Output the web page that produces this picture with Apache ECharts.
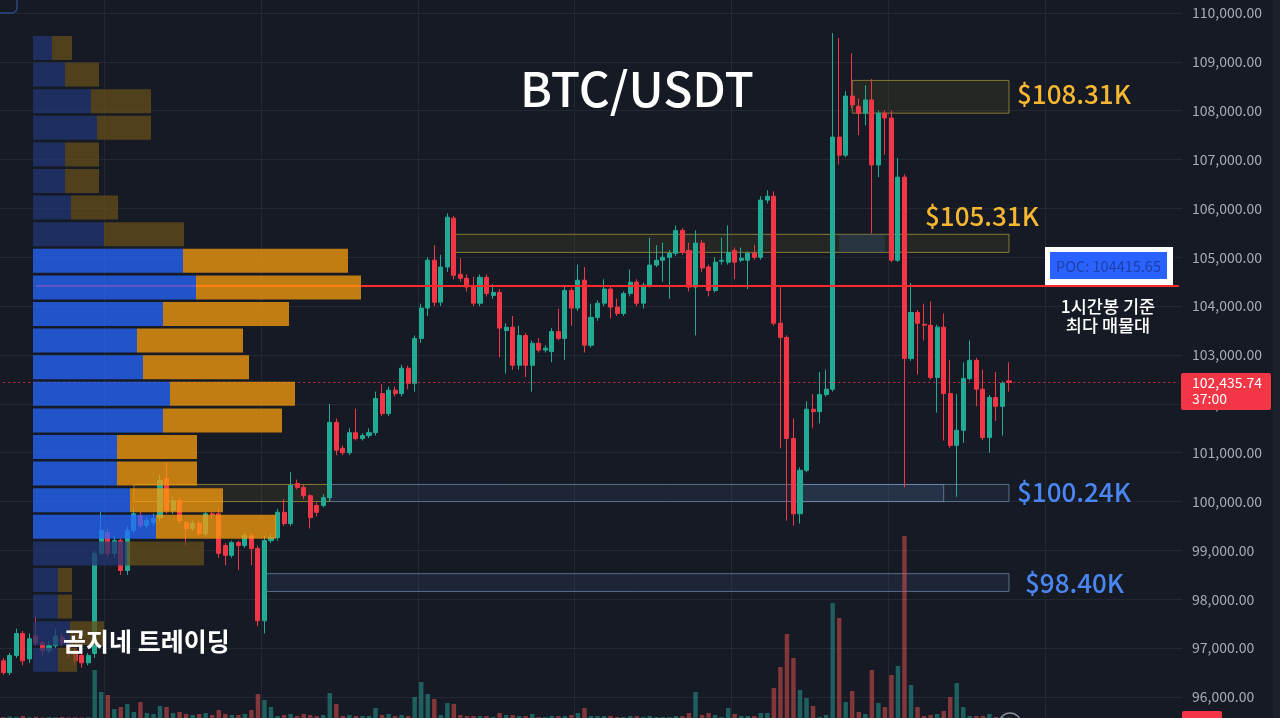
<!DOCTYPE html>
<html><head><meta charset="utf-8">
<script src="https://cdn.jsdelivr.net/npm/echarts/dist/echarts.min.js"></script>
<style>html,body{margin:0;padding:0;background:#161a25;overflow:hidden}#c{width:1280px;height:718px}</style>
</head><body><div id="c"></div>
<script>
// ---- DATA ----
// hourly candles: [open, close, low, high]
const candles = [
[96740,96500,96450,96800],[96500,96850,96450,96900],[96850,97300,96800,97400],[97300,96740,96650,97350],
[96780,97190,96700,97300],[97250,97110,97050,97660],[97110,96950,96850,97150],[96950,97050,96900,97150],
[97050,97250,97000,97400],[97230,97110,97050,97300],[97050,96910,96800,97100],[96950,96740,96650,97000],
[96850,96700,96600,96900],[96700,96850,96650,96900],[96890,98940,96800,99000],[98940,99410,98900,99800],
[99370,98940,98850,99450],[98940,99200,98850,99300],[99200,98590,98500,99250],[98590,99410,98500,99500],
[99410,99750,99350,99850],[99710,99510,99450,99800],[99510,99610,99450,99700],[99570,99650,99500,99750],
[99670,100430,99600,100550],[100470,99820,99750,100800],[99820,100020,99750,100100],[100020,99610,99550,100100],
[99570,99450,99100,99600],[99450,99550,99400,99620],[99550,99340,99300,99600],[99340,99750,99300,99800],
[99750,99730,99650,99800],[99750,98940,98850,99850],[99100,98900,98700,99150],[98900,99160,98850,99200],
[99160,99100,98600,99200],[99100,99300,99050,99350],[99300,99040,98700,99350],[99040,97560,97450,99100],
[97560,99200,97300,99300],[99200,99260,99150,99350],[99260,99780,99200,99850],[99780,99550,99500,100050],
[99550,100330,99500,100600],[100370,100290,100250,100450],[100290,100120,100050,100350],[100120,99670,99450,100150],
[99920,99780,99700,99980],[99920,100080,99880,100150],[100080,101620,100000,102000],[101620,101050,100950,101700],
[101090,101000,100950,101150],[101000,101410,100950,101500],[101410,101290,101250,101900],[101290,101350,101250,101400],
[101350,101410,101300,101500],[101410,102110,101350,102250],[102210,101800,101750,102400],[101800,102280,101750,102350],
[102280,102210,102150,102350],[102210,102730,102150,102800],[102730,102420,102300,102780],[102420,103340,102250,103400],
[103340,103960,103250,104050],[103960,104940,103800,105000],[104940,104080,104000,105250],[104080,104800,104000,105050],
[104800,105820,104700,105900],[105800,104630,104550,105850],[104650,104570,104500,104980],[104570,104390,104300,104650],
[104390,104060,104000,104600],[104060,104590,104000,104650],[104590,104260,104200,104650],[104220,104280,104150,104450],
[104280,103550,102950,104350],[103500,103570,102620,103650],[103570,102790,102700,103800],[102790,103400,102700,103600],
[103400,102790,102550,103450],[102790,103240,102250,103300],[103240,103100,103050,103350],[103100,103140,103050,103200],
[103070,103480,102850,103550],[103480,103340,103300,103950],[103340,104320,102900,104400],[104320,103960,103600,104380],
[103960,104530,103900,104850],[104530,103200,103050,104800],[103200,103770,103150,104050],[103770,104060,103700,104120],
[104060,104350,104000,104550],[104350,103980,103750,104400],[103980,103850,103800,104150],[103850,104260,103800,104300],
[104260,104490,104200,104750],[104490,104060,104000,104550],[104060,104430,103950,104480],[104430,104840,104380,105400],
[104840,104940,104800,105250],[104940,105000,104500,105300],[105000,105080,104150,105150],[105080,105550,105030,105650],
[105550,105100,105050,105600],[105140,104390,104300,105300],[104390,105290,103400,105550],[105290,104780,104700,105350],
[104800,104320,104200,104850],[104320,104900,104280,105000],[104920,104940,104850,105400],[104900,105100,104850,105650],
[105140,104900,104550,105200],[104940,104980,104900,105200],[104940,105080,104350,105120],[105080,105000,104950,105250],
[105000,106170,104950,106250],[106170,106250,106100,106370],[106250,103650,103600,106350],[103650,103360,101090,104400],
[103360,101290,99610,103400],[101290,99750,99510,101700],[99750,100640,99550,100700],[100640,101890,100600,102050],
[101890,101840,101500,102200],[101840,102190,101600,102650],[102190,102300,102150,102700],[102300,107460,102250,109590],
[107460,107090,106900,109490],[107090,108300,107050,108400],[108300,108120,108050,109180],[108090,107950,107500,108250],
[107950,108220,107700,108520],[108220,106890,105490,108650],[106890,107950,106640,108000],[107950,107850,107100,108000],
[107850,104940,104900,108000],[104940,106640,104900,107030],[106640,102930,100290,106700],[102930,103870,102880,104470],
[103870,103650,102600,103920],[103630,103610,103300,104050],[103610,102540,102500,104100],[102540,103570,101820,103620],
[103570,102210,101250,103850],[102210,101150,101100,102900],[101150,101460,100100,102200],[101460,102520,101200,102850],
[102520,102890,102480,103300],[102890,102300,101950,102940],[102300,101310,101260,102700],[101310,102130,101000,102180],
[102130,101950,101650,102650],[101950,102420,101350,102460],[102470,102435.74,102250,102850]
];
const volumes = [
10,15,10,20,8,12,6,10,8,10,6,8,5,8,480,260,230,90,110,140,
60,160,50,40,120,110,50,60,40,30,40,50,30,80,40,30,30,40,80,240,
180,110,20,30,40,20,40,30,20,30,250,140,20,30,20,20,20,100,30,40,
20,30,20,210,360,240,190,30,150,140,30,20,20,20,20,10,50,30,30,20,
20,40,10,10,20,20,20,30,50,100,20,20,20,20,10,10,20,20,10,20,
10,10,10,20,20,50,260,30,50,30,10,100,40,20,20,20,50,50,300,510,
840,600,280,200,120,10,30,1150,1000,160,270,60,40,480,150,110,430,520,1820,330,
110,20,30,40,70,210,350,110,20,20,20,40,10,10,5
];
const totalSlots = 196;
// volume profile rows (top to bottom), price level of each row
const profileLevels = [109280,108735,108190,107645,107100,106555,106010,105465,104920,104375,103830,103285,
  102740,102195,101650,101105,100560,100015,99470,98925,98380,97835,97290,96745];
const profileBuy  = [19,32,58,64,32,32,38,71,150,163,130,104,110,137,130,84,84,97,123,94,25,25,37,25];
const profileSell = [20,34,60,54,34,34,47,80,165,165,126,106,106,125,119,80,80,93,120,77,14,14,34,19];
const valueAreaRows = [8,9,10,11,12,13,14,15,16,17,18];
const pocPrice = 104415.65;
const lastPrice = 102435.74;
// supply/demand zones: [fromIndex, toIndex, top, bottom, kind]
const zones = [
  [130,154,108620,107950,'gold'],
  [69,154,105470,105100,'gold'],
  [128,135,105470,105100,'blueFill'],
  [20,50,100350,100000,'gold'],
  [50,154,100350,100000,'blue'],
  [122,144,100350,100000,'blueInner'],
  [40,154,98525,98160,'blue']
];
const zoneLabels = ['$108.31K','$105.31K','$100.24K','$98.40K'];
const viewRange = {min:95570, max:110266};       // visible price window
const priceTicks = {min:96000, max:110000, step:1000}; // labelled levels

// ---- CHART ----
const FONT = '"Noto Sans CJK KR","Noto Sans",sans-serif';
const UP = '#22ab94', DOWN = '#f23645';
const cats = Array.from({length: totalSlots}, (_, i) => 'H' + i);
const chart = echarts.init(document.getElementById('c'), null, {renderer:'canvas'});

const zoneStyle = {
  gold: {color:'rgba(120,112,40,0.16)', borderColor:'rgba(170,150,60,0.75)', borderWidth:1},
  blue: {color:'rgba(70,105,150,0.16)', borderColor:'rgba(110,135,165,0.75)', borderWidth:1},
  blueFill: {color:'rgba(60,100,170,0.22)', borderWidth:0},
  blueInner: {color:'rgba(90,125,170,0.14)', borderColor:'rgba(120,145,175,0.7)', borderWidth:1}
};

const vaSet = new Set(valueAreaRows);
const buyColorBright = '#2668ff', sellColorBright = '#fb9e0c';
const buyColorDim = '#213671', sellColorDim = '#654d1a';
const SLOT = 6.544;

const option = {
  backgroundColor:'#161a25',
  animation:false,
  grid:[
    {left:-1, width:SLOT*totalSlots, top:0, height:718},
    {left:-1, width:SLOT*totalSlots, top:418, height:300},
    {left:33, width:400, top:34.7, height:638.4},
    {left:-1, width:1183, top:13, height:684}
  ],
  xAxis:[
    {type:'category', gridIndex:0, data:cats, boundaryGap:true,
     axisLine:{show:false}, axisTick:{show:false}, axisLabel:{show:false},
     splitLine:{show:true, interval:(i)=> i % 24 === 16 && i < 170, lineStyle:{color:'#242833', width:1}}},
    {type:'category', gridIndex:1, data:cats, boundaryGap:true, show:false},
    {type:'value', gridIndex:2, min:0, max:400, show:false},
    {type:'value', gridIndex:3, min:0, max:1, show:false}
  ],
  yAxis:[
    {type:'value', gridIndex:0, min:viewRange.min, max:viewRange.max, show:false, splitLine:{show:false}},
    {type:'value', gridIndex:1, min:0, max:3000, show:false},
    {type:'category', gridIndex:2, data:profileLevels.map(String), inverse:true, show:false},
    {type:'value', gridIndex:3, position:'right', min:priceTicks.min, max:priceTicks.max, interval:priceTicks.step,
     axisLine:{show:false}, axisTick:{show:false},
     axisLabel:{margin:10, color:'#a9acb5', fontSize:14, fontFamily:FONT, align:'left',
       formatter:(v)=> v.toLocaleString('en-US',{minimumFractionDigits:2, maximumFractionDigits:2})},
     splitLine:{show:true, lineStyle:{color:'#242833', width:1}}}
  ],
  series:[
    {type:'bar', name:'volume', xAxisIndex:1, yAxisIndex:1, barWidth:'68%', z:1,
     data: volumes.map((v,i)=>({value:v, itemStyle:{color: candles[i][1] >= candles[i][0] ? 'rgba(38,166,154,0.5)' : 'rgba(239,83,80,0.5)'}}))},
    {type:'candlestick', name:'BTC/USDT', xAxisIndex:0, yAxisIndex:0, z:3, barWidth:'70%',
     data:candles,
     itemStyle:{color:UP, color0:DOWN, borderColor:UP, borderColor0:DOWN, borderWidth:1},
     markArea:{silent:true, z:1,
       data: zones.map(z=>[{coord:[z[0], z[2]], itemStyle:zoneStyle[z[4]]},{coord:[z[1], z[3]]}])},
     markLine:{silent:true, symbol:['none','none'], animation:false, label:{show:false},
       data:[
         [{coord:[5, pocPrice], lineStyle:{color:'#ff2b2b', width:2, type:'solid'}},{coord:[180, pocPrice]}],
         [{coord:[0, lastPrice], lineStyle:{color:'#f23645', width:1, type:[2,3], opacity:0.8}},{coord:[180, lastPrice]}]
       ]}
    },
    {type:'bar', name:'buy', xAxisIndex:2, yAxisIndex:2, stack:'vp', barWidth:24, z:6,
     itemStyle:{opacity:0.75},
     data: profileBuy.map((v,k)=>({value:v, itemStyle:{color: vaSet.has(k)? buyColorBright : buyColorDim}}))},
    {type:'bar', name:'sell', xAxisIndex:2, yAxisIndex:2, stack:'vp', barWidth:24, z:6,
     itemStyle:{opacity:0.75},
     data: profileSell.map((v,k)=>({value:v, itemStyle:{color: vaSet.has(k)? sellColorBright : sellColorDim}}))}
  ],
  graphic:[
    {type:'rect', z:100, shape:{x:-10, y:-10, width:27, height:23, r:5}, style:{fill:'none', stroke:'#2b4a85', lineWidth:1.5}},
    {type:'text', z:100, style:{text:'BTC/USDT', x:637, y:89, fill:'#ffffff', font:'500 48px '+FONT, align:'center', verticalAlign:'middle', textAlign:'center', textVerticalAlign:'middle'}},
    {type:'text', z:100, style:{text:zoneLabels[0], x:1017, y:94, fill:'#f5b731', font:'500 26px '+FONT, align:'left', verticalAlign:'middle', textAlign:'left', textVerticalAlign:'middle'}},
    {type:'text', z:100, style:{text:zoneLabels[1], x:925, y:216, fill:'#f5b731', font:'500 26px '+FONT, align:'left', verticalAlign:'middle', textAlign:'left', textVerticalAlign:'middle'}},
    {type:'text', z:100, style:{text:zoneLabels[2], x:1017, y:492, fill:'#4a86f2', font:'500 26px '+FONT, align:'left', verticalAlign:'middle', textAlign:'left', textVerticalAlign:'middle'}},
    {type:'text', z:100, style:{text:zoneLabels[3], x:1025, y:583, fill:'#4a86f2', font:'500 26px '+FONT, align:'left', verticalAlign:'middle', textAlign:'left', textVerticalAlign:'middle'}},
    {type:'rect', z:100, shape:{x:1045, y:247, width:128, height:38}, style:{fill:'#ffffff'}},
    {type:'rect', z:101, shape:{x:1050, y:252, width:117, height:27}, style:{fill:'#2962ff'}},
    {type:'text', z:102, style:{text:'POC: '+pocPrice.toFixed(2), x:1108.5, y:266, fill:'#1f3fa8', font:'14.5px '+FONT, align:'center', verticalAlign:'middle', textAlign:'center', textVerticalAlign:'middle'}},
    {type:'text', z:100, style:{text:'1시간봉 기준', x:1108, y:306, fill:'#ffffff', font:'500 17.5px '+FONT, align:'center', verticalAlign:'middle', textAlign:'center', textVerticalAlign:'middle'}},
    {type:'text', z:100, style:{text:'최다 매물대', x:1108, y:325, fill:'#ffffff', font:'500 17.5px '+FONT, align:'center', verticalAlign:'middle', textAlign:'center', textVerticalAlign:'middle'}},
    {type:'text', z:100, style:{text:'곰지네 트레이딩', x:63, y:641, fill:'#ffffff', font:'bold 25px '+FONT, align:'left', verticalAlign:'middle', textAlign:'left', textVerticalAlign:'middle'}},
    {type:'rect', z:100, shape:{x:1181, y:373, width:90, height:37, r:2}, style:{fill:'#f23645'}},
    {type:'text', z:101, style:{text:lastPrice.toLocaleString('en-US',{minimumFractionDigits:2}), x:1192, y:383, fill:'#ffffff', font:'14px '+FONT, align:'left', verticalAlign:'middle', textAlign:'left', textVerticalAlign:'middle'}},
    {type:'text', z:101, style:{text:'37:00', x:1192, y:399, fill:'#ffffff', font:'14px '+FONT, align:'left', verticalAlign:'middle', textAlign:'left', textVerticalAlign:'middle'}},
    {type:'rect', z:100, shape:{x:1182, y:711, width:40, height:8, r:2}, style:{fill:'#f23645'}},
    {type:'circle', z:100, shape:{cx:1010, cy:724, r:11}, style:{fill:'none', stroke:'#8a8d96', lineWidth:1.5}},
    {type:'rect', z:100, shape:{x:1273, y:0, width:7, height:718}, style:{fill:'#1c202b'}}
  ]
};
chart.setOption(option);
</script></body></html>
